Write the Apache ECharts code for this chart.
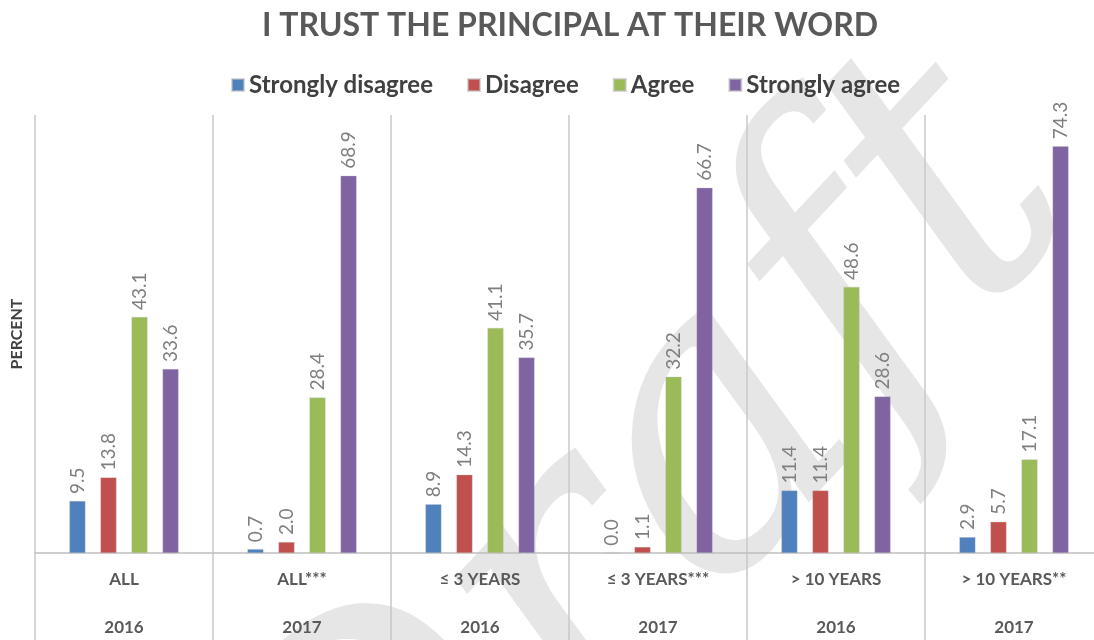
<!DOCTYPE html>
<html>
<head>
<meta charset="utf-8">
<script src="https://cdn.jsdelivr.net/npm/echarts@6/dist/echarts.min.js"></script>
<style>
  html, body { margin: 0; padding: 0; background: #fff; }
  #chart { width: 1094px; height: 640px; }
</style>
</head>
<body>
<div id="chart"></div>
<script>
const groups = ["ALL", "ALL***", "≤ 3 YEARS", "≤ 3 YEARS***", "> 10 YEARS", "> 10 YEARS**"];
const years = ["2016", "2017", "2016", "2017", "2016", "2017"];

const stronglyDisagree = [9.5, 0.7, 8.9, 0.0, 11.4, 2.9];
const disagree = [13.8, 2.0, 14.3, 1.1, 11.4, 5.7];
const agree = [43.1, 28.4, 41.1, 32.2, 48.6, 17.1];
const stronglyAgree = [33.6, 68.9, 35.7, 66.7, 28.6, 74.3];

const seriesNames = ["Strongly disagree", "Disagree", "Agree", "Strongly agree"];
const colors = ["#4f81bd", "#c0504d", "#9bbb59", "#8064a2"];

const FONT = "Lato";
const categories = groups.map((g, i) => g + "\n" + years[i]);

const chart = echarts.init(document.getElementById("chart"));

function barSeries(name, data, color) {
  return {
    name: name,
    type: "bar",
    data: data,
    barWidth: 16,
    barGap: "94%",
    itemStyle: { color: color, borderColor: "rgba(190,190,190,0.6)", borderWidth: 0.5 },
    label: {
      show: true,
      position: "top",
      rotate: 90,
      align: "left",
      verticalAlign: "middle",
      distance: 7,
      color: "#7f7f7f",
      fontFamily: FONT,
      fontSize: 19,
      formatter: (p) => p.value.toFixed(1)
    },
    z: 3
  };
}

chart.setOption({
  backgroundColor: "#ffffff",
  animation: false,
  title: {
    text: "I TRUST THE PRINCIPAL AT THEIR WORD",
    left: 565,
    textAlign: "center",
    top: 5,
    textStyle: { color: "#595959", fontFamily: FONT, fontWeight: "bold", fontSize: 32 }
  },
  legend: {
    data: seriesNames,
    left: 226,
    top: 68,
    itemWidth: 12,
    itemHeight: 12,
    itemGap: 34,
    icon: "rect",
    textStyle: { color: "#404040", fontFamily: FONT, fontWeight: "bold", fontSize: 24 }
  },
  graphic: [{
    type: "text",
    z: -10,
    x: 650,
    y: 520,
    rotation: 0.82,
    silent: true,
    style: {
      text: "Draft",
      x: 0,
      y: 0,
      align: "center",
      verticalAlign: "middle",
      fontFamily: "DejaVu Serif",
      fontStyle: "italic",
      fontSize: 400,
      fill: "#e6e6e6"
    }
  }],
  grid: { left: 35, top: 115, width: 1068, height: 438, containLabel: false, outerBoundsMode: "none" },
  xAxis: {
    type: "category",
    data: categories,
    axisLine: { show: true, lineStyle: { color: "#bfbfbf", width: 1.5 } },
    axisTick: { show: true, length: 90, lineStyle: { color: "#c8c8c8", width: 1.5 } },
    splitLine: { show: true, lineStyle: { color: "#c8c8c8", width: 1.5 } },
    axisLabel: {
      margin: 3,
      interval: 0,
      color: "#595959",
      fontFamily: FONT,
      fontWeight: "bold",
      fontSize: 17,
      lineHeight: 48
    }
  },
  yAxis: {
    type: "value",
    min: 0,
    max: 80,
    name: "PERCENT",
    nameLocation: "middle",
    nameRotate: 90,
    nameGap: 10,
    nameTextStyle: { color: "#404040", fontFamily: FONT, fontWeight: "bold", fontSize: 16 },
    axisLine: { show: false },
    axisTick: { show: false },
    axisLabel: { show: false },
    splitLine: { show: false }
  },
  series: [
    barSeries(seriesNames[0], stronglyDisagree, colors[0]),
    barSeries(seriesNames[1], disagree, colors[1]),
    barSeries(seriesNames[2], agree, colors[2]),
    barSeries(seriesNames[3], stronglyAgree, colors[3])
  ]
});
</script>
</body>
</html>
